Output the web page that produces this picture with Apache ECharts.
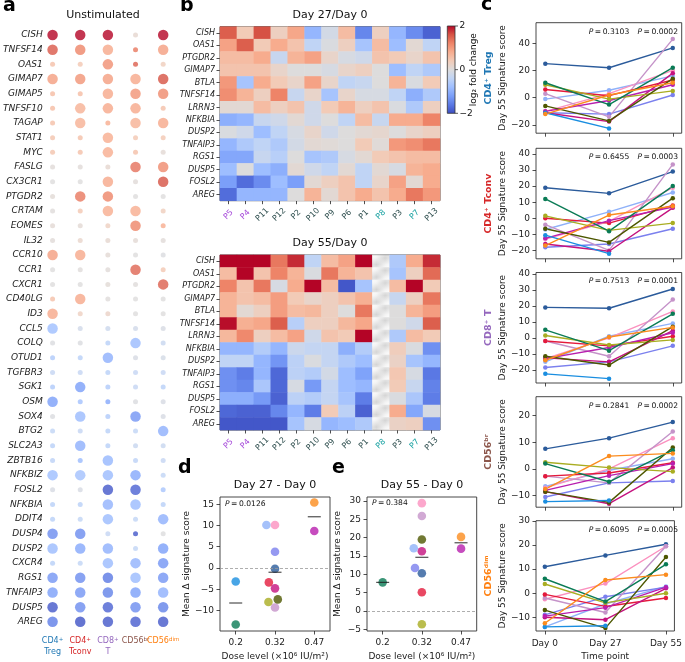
<!DOCTYPE html>
<html><head><meta charset="utf-8">
<script src="https://cdn.jsdelivr.net/npm/echarts@6/dist/echarts.min.js"></script>
<style>html,body{margin:0;padding:0;background:#fff}#c{width:685px;height:662px}</style>
</head><body><div id="c"></div>
<script>
const FONT = 'DejaVu Sans';
// ---------------- DATA ----------------
// panel a
const dotGenes = ['CISH','TNFSF14','OAS1','GIMAP7','GIMAP5','TNFSF10','TAGAP','STAT1','MYC','FASLG','CX3CR1','PTGDR2','CRTAM','EOMES','IL32','CCR10','CCR1','CXCR1','CD40LG','ID3','CCL5','COLQ','OTUD1','TGFBR3','SGK1','OSM','SOX4','BTG2','SLC2A3','ZBTB16','NFKBIZ','FOSL2','NFKBIA','DDIT4','DUSP4','DUSP2','CXCR4','RGS1','TNFAIP3','DUSP5','AREG'];
const cellTypes = ['CD4+|Treg','CD4+|Tconv','CD8+|T','CD56^br','CD56^dim'];
const cellTypeShort = ['CD4\u207A Treg','CD4\u207A Tconv','CD8\u207A T','CD56\u1D47\u02B3','CD56\u1D48\u2071\u1D50'];
const cellTypeColors = ['#1f77b4','#d62728','#9467bd','#8c564b','#ff7f0e'];
const dotLFC = [
 [2.0,2.0,2.0,0.15,2.0],[1.55,1.2,0.85,1.3,0.95],[0.55,0.45,1.1,1.5,0.35],[0.95,1.05,0.95,0.85,1.6],
 [0.6,0.6,0.85,1.05,1.15],[0.6,0.75,0.85,0.85,0.55],[0.55,0.75,0.8,0.75,0.85],[0.5,0.55,0.8,0.45,0.45],
 [0.5,0.55,0.8,0.55,0.1],[0.05,0.05,0.15,1.35,1.15],[0.0,0.0,0.85,0.05,1.6],[0.08,1.3,1.2,0.0,0.0],
 [0.03,0.45,0.8,0.8,0.35],[0.1,0.1,0.3,1.2,0.8],[0.05,0.2,0.15,0.1,0.05],[0.95,0.85,0.1,0.0,-0.05],
 [0.0,0.02,0.05,1.45,0.45],[0.0,0.0,0.08,0.02,1.5],[0.55,0.85,0.02,0.0,0.0],[0.85,0.3,0.25,0.0,0.0],
 [-0.8,-0.2,-0.25,-0.2,-0.1],[-0.05,-0.05,-0.5,-0.85,-0.3],[-0.6,-0.5,-1.0,-0.1,-0.15],[-0.35,-0.35,-0.5,-0.35,-0.35],
 [-0.6,-1.2,-0.6,-0.35,-0.5],[-1.2,-0.75,-1.1,-0.05,-0.1],[-0.05,-0.85,-0.6,-1.3,-0.1],[-0.4,-0.35,-0.5,-0.4,-1.0],
 [-0.5,-1.0,-0.5,-0.3,-0.3],[-0.45,-0.85,-0.9,-0.45,-0.35],[-0.8,-0.75,-0.85,-1.1,-0.4],[-0.1,-0.1,-1.9,-1.8,-0.7],
 [-0.5,-0.5,-0.95,-0.85,-0.5],[-0.5,-0.4,-0.85,-0.4,-1.0],[-1.4,-1.4,-0.35,-1.9,-0.02],[-0.85,-1.1,-1.0,-0.4,-1.2],
 [-0.5,-0.4,-0.85,-0.95,-1.3],[-1.3,-1.4,-1.6,-0.85,-1.3],[-1.2,-1.3,-1.5,-1.2,-1.0],[-1.9,-1.4,-1.8,-1.4,-1.5],
 [-1.55,-1.95,-1.9,-1.85,-1.9]];
// 1 = significant (large dot), 0 = not significant (small dot)
const dotSig = [
 [1,1,1,0,1],[1,1,1,0,1],[0,0,1,0,0],[1,1,1,1,1],[0,0,1,1,1],[0,1,1,1,0],[0,1,0,1,1],[0,0,1,0,0],[0,0,1,0,0],
 [0,0,0,1,1],[0,0,1,0,1],[0,1,1,0,0],[0,0,1,1,0],[0,0,0,1,0],[0,0,0,0,0],[1,1,0,0,0],[0,0,0,1,0],[0,0,0,0,1],
 [0,1,0,0,0],[1,0,0,0,0],[1,0,0,0,0],[0,0,0,1,0],[0,0,1,0,0],[0,0,0,0,0],[0,1,0,0,0],[1,0,0,0,0],[0,1,0,1,0],
 [0,0,0,0,1],[0,1,0,0,0],[0,0,1,0,0],[1,1,1,1,0],[0,0,1,1,0],[0,0,1,1,0],[0,0,1,0,1],[1,1,0,0,0],[1,1,1,0,1],
 [0,0,1,1,1],[1,1,1,1,1],[1,1,1,1,1],[1,1,1,1,1],[1,1,1,1,1]];

// panel b
const hmGenes = ['CISH','OAS1','PTGDR2','GIMAP7','BTLA','TNFSF14','LRRN3','NFKBIA','DUSP2','TNFAIP3','RGS1','DUSP5','FOSL2','AREG'];
const hmPatients = ['P5','P4','P11','P12','P2','P10','P9','P6','P1','P8','P3','P7','P13'];
const hmPatientGroup = [2,2,1,1,1,1,1,1,1,0,1,0,1];
const groupColors = ['#1aa2a2','#2f4f4f','#a84ddb'];
const lfcDay27 = [
 [1.5,0.4,1.6,0.3,0.85,-0.9,-0.15,0.6,-1.45,0.3,-0.9,-1.4,-1.8],
 [0.9,1.5,0.4,0.8,0.5,-0.4,-0.05,0.3,-0.7,0.6,-0.8,0.1,-0.4],
 [0.6,0.6,0.8,-0.3,0.7,0.9,0.2,-0.1,-0.2,0.5,0.4,0.2,0.5],
 [0.5,0.5,0.5,0.2,0.0,0.0,-0.1,0.2,0.3,0.0,-0.8,-0.4,-0.6],
 [1.0,-0.7,0.8,0.4,0.2,0.9,0.2,-0.4,-0.3,0.0,0.7,-0.05,0.4],
 [1.1,0.7,0.3,1.2,-0.3,0.2,-0.7,0.2,-0.1,-0.1,-0.4,-1.0,-0.6],
 [0.1,0.1,0.6,0.3,0.5,-0.2,0.4,0.7,0.3,0.5,-0.05,-0.6,0.3],
 [-1.0,-0.9,-0.3,-0.2,0.1,-0.2,0.0,-0.4,0.6,-0.3,0.8,0.8,1.2],
 [-0.05,-0.2,-0.8,-0.4,-0.1,0.2,-0.2,0.0,0.1,0.15,0.0,0.2,0.3],
 [-0.9,-0.6,-0.4,-0.6,-0.15,0.1,0.05,0.0,0.4,0.05,1.0,1.1,1.3],
 [-1.1,-1.1,-0.3,-0.5,0.0,-0.7,-0.6,-0.1,0.1,0.4,0.5,0.6,0.6],
 [-0.8,0.0,-0.8,-1.0,0.1,-0.2,-0.4,0.1,-0.4,0.1,-0.1,0.7,0.8],
 [-1.2,-1.7,-1.4,-0.8,-1.2,0.1,0.3,0.5,-0.4,0.2,0.9,0.1,0.8],
 [-1.7,-0.9,-0.9,-0.9,0.0,0.7,0.1,0.5,0.8,0.5,0.8,1.3,1.0]];
const lfcDay55 = [
 [2,2,2,1.3,1.8,-0.4,0.6,0.9,2,null,-0.6,0.8,1.8],
 [0.6,2,0.5,1.2,0.7,-0.05,1.3,0.7,0.5,null,-0.7,0.3,1.4],
 [1.2,0.5,1.3,-0.1,0.8,2,0.6,-1.9,-0.7,null,0.6,2,0.4],
 [0.7,0.5,0.6,0.95,0.4,0.2,0.3,0.5,0.75,null,-0.3,0.3,1.3],
 [0.7,0.1,0.3,0.95,0.6,0.65,0.3,0.0,1.3,null,0.0,0.7,0.95],
 [1.95,0.75,0.85,1.5,-0.5,0.3,0.3,0.65,0.85,null,0.0,-0.2,1.5],
 [0.65,1.15,0.3,0.6,0.9,-0.2,0.5,0.4,2,null,-0.6,0.6,0.4],
 [-0.9,-0.9,-0.55,-0.9,-0.25,-0.35,-0.35,-1.0,-0.55,null,0.35,-0.05,-1.35],
 [-0.4,-0.4,-0.9,-1.3,-0.45,-0.05,-0.35,-0.6,-0.8,null,0.25,-0.7,-0.9],
 [-1.35,-1.55,-0.9,-1.75,-0.45,-0.55,-0.15,-0.8,-1.15,null,0.45,-0.1,-1.6],
 [-1.35,-1.45,-0.65,-1.75,-0.1,-1.25,-0.35,-0.8,-0.9,null,0.4,-0.3,-1.5],
 [-1.0,-1.0,-1.25,-1.8,-0.45,-0.55,-0.35,-0.7,-1.55,null,-0.05,-0.65,-1.55],
 [-1.75,-1.8,-1.8,-1.45,-0.9,-1.55,0.4,-0.45,-1.8,null,0.8,-1.1,-0.1],
 [-1.9,-1.9,-1.9,-1.9,-0.7,-0.1,-0.9,-0.8,-0.6,null,0.25,0.3,-1.35]];
const colorbarTicks = [2, 0, -2];

// panel c  (patients: navy, light blue, periwinkle, pink, mauve, red, deep magenta, magenta, olive, dark olive, green, blue, orange)
const patientColors = ['#2b5b9b','#8fb1f9','#7b80ee','#fb91bf','#c593c9','#e41a3c','#c4127e','#b81fae','#a9ad22','#4d5700','#0a7b55','#1a8ee0','#fb8c1e'];
const timepoints = ['Day 0','Day 27','Day 55'];
const scoreTreg = [[25,22,36.5],[-1,5.5,16],[-11,-12,2],[-10,3,20],[3,-14,43],[6,1.5,13],[-11,-17.5,18],[-10,-2,9.5],[9.5,-1,5],[-6,-17,14],[11,-5,22],[-11,-22.5,null],[-12,2,11]];
const scoreTconv = [[19,15.5,29],[-7,4,16],[-18,-16,-6.5],[-13,-2,19],[-4,-20,33.5],[0,-3,8],[-16,-20.5,6.5],[-12.5,-1.5,7],[1.5,-7.5,-3],[-6.5,-15,12.5],[12,-8,20],[-10.5,-22,null],[-17,2,7.5]];
const scoreCD8 = [[19,18.5,30.5],[-15,1,9],[-18.5,-15,-5],[-13,0,16.5],[-2,-11.5,24],[-2,-5,1],[-12.5,-15,4.5],[-13,-6,3.2],[1.5,-4.5,-1.3],[-11.5,-17,7],[5,-8,15],[-22.5,-25.5,null],[-14,0.5,6.5]];
const scoreCD56br = [[7.5,11.5,17.5],[-6.5,-0.5,3.8],[-10.5,-5.2,-4.5],[-7,0,11.5],[-2.7,-5.2,14],[-2.7,-1.5,2.3],[-8.5,-13,0.5],[-8,-2.5,2],[2.5,0.5,-1],[-8.5,-12.5,8],[2,-4.8,7],[-12.2,-11.8,null],[-7.5,4.8,5.8]];
const scoreCD56dim = [[11,15.7,20.3],[-14,-4.5,2.8],[-9,-1.5,2.5],[-2.5,4,19.5],[-2,-8,19.5],[-0.5,-5.5,-2],[-10,-11,2],[-9.5,-6,2.5],[3.8,-4,0],[-7,-14.5,15],[6,-3.5,12],[-14,-13.5,null],[-12.5,5.5,7.7]];
const pDay27 = ['0.3103','0.6455','0.7513','0.2841','0.6095'];
const pDay55 = ['0.0002','0.0003','0.0001','0.0002','0.0005'];
const cTicks = [[-20,0,20,40],[-20,-10,0,10,20,30,40],[-20,-10,0,10,20,30,40],[-10,0,10,20],[-10,0,10,20,30]];

// panels d, e
const doseLevels = ['0.2','0.32','0.47'];
const patientDose = [1,1,1,1,1,1,1,2,1,1,0,0,2];
const delta27 = [-0.2,10.1,3.8,10.1,-9.3,-3.4,-4.8,8.7,-8.0,-7.4,-13.3,-3.2,15.4];
const delta55 = [10.3,17.1,11.7,29.4,25.9,5.1,16.3,17.0,-3.6,19.5,7.8,null,20.2];
const pD = '0.0126', pE = '0.384';
const dTicks = [-10,-5,0,5,10,15], eTicks = [-5,0,5,10,15,20,25,30];

// ---------------- LAYOUT ----------------
const coolwarm = ['#3b4cc0','#5a78e4','#7b9ff9','#9ebeff','#c0d4f5','#dddcdc','#f2cbb7','#f7ac8e','#ee8468','#d65244','#b40426'];
const GA = {left:28, top:27.67, width:149, height:601.5};
const GH1 = {left:220, top:26.7, width:220, height:174};
const GH2 = {left:220, top:255, width:220, height:175};
const C_TOPS = [22.7,148.3,272.5,396.7,520.7];
const GC = {left:536, width:145.7, height:110.5};
const C_RANGES = [[-26,55],[-25.2,43.5],[-28.2,40.8],[-14.3,27],[-15.7,30.1]];
const GD = {left:220, top:497, width:110, height:135}, D_RANGE = [-14.84,16.7];
const GE = {left:367, top:497, width:109.7, height:135}, E_RANGE = [-5.46,31.08];
const XR = [-0.4, 2.4];
const AX = '#222';
const tk = {fontSize:9, color:AX, fontFamily:FONT};
const minus = v => String(v).replace('-', '\u2212');
const noLine = {show:false, onZero:false};

const grids = [GA, GH1, GH2];
C_TOPS.forEach(t => grids.push({left:GC.left, top:t, width:GC.width, height:GC.height}));
grids.push(GD, GE);
const gridOpt = grids.map((g,i) => Object.assign({}, g, {show: i>0, borderColor:'#333', borderWidth:0.9, backgroundColor:'transparent', containLabel:false}));

const xAxes = [], yAxes = [];
// a
const richA = {n:{fontSize:8, lineHeight:10.5, fontFamily:FONT}, s:{fontSize:5.5, lineHeight:10.5, verticalAlign:'top', fontFamily:FONT}};
xAxes.push({gridIndex:0, type:'category', data:cellTypes, axisLine:noLine, axisTick:{show:false},
  axisLabel:{interval:0, fontSize:8, lineHeight:10.5, margin:7, fontFamily:FONT, color:(v,i)=>cellTypeColors[i], rich:richA,
    formatter:v=>{
      const lines = v.split('|').map(s=>{ const m = s.match(/^([^+^]*)(\+|\^(.*))?$/); return '{n|'+m[1]+'}' + (m[2] ? '{s|'+(m[2]==='+'?'+':m[3])+'}' : ''); });
      return lines.join('\n');
    }}});
yAxes.push({gridIndex:0, type:'category', data:dotGenes, inverse:true, offset:-6, axisLine:noLine, axisTick:{show:false},
  axisLabel:{interval:0, fontSize:9, fontStyle:'italic', margin:2, color:AX, fontFamily:FONT}});
// b
[1,2].forEach(gi => {
  xAxes.push({gridIndex:gi, type:'category', data:hmPatients, axisLine:noLine,
    axisTick:{show:true, alignWithLabel:true, length:3.5, lineStyle:{color:AX, width:0.8}},
    axisLabel:{interval:0, rotate:45, align:'center', verticalAlign:'middle', margin:14, fontSize:8, fontFamily:FONT,
      color:(v,i)=>groupColors[hmPatientGroup[i]]}});
  yAxes.push({gridIndex:gi, type:'category', data:hmGenes, inverse:true, axisLine:noLine,
    axisTick:{show:true, alignWithLabel:true, length:3.5, lineStyle:{color:AX, width:0.8}},
    axisLabel:{interval:0, fontSize:8, fontStyle:'italic', margin:5, color:AX, fontFamily:FONT}});
});
// c
C_TOPS.forEach((t, i) => {
  const last = i === 4;
  xAxes.push({gridIndex:3+i, type:'value', min:-0.146, max:2.14, splitLine:{show:false}, axisLine:noLine,
    axisTick:{show:true, customValues:[0,1,2], length:3.5, lineStyle:{color:AX, width:0.8}},
    axisLabel:{show:last, customValues:[0,1,2], margin:8, formatter:v=>timepoints[Math.round(v)], ...tk},
    name: last ? 'Time point' : '', nameLocation:'middle', nameGap:21, nameTextStyle:{...tk}});
  yAxes.push({gridIndex:3+i, type:'value', min:C_RANGES[i][0], max:C_RANGES[i][1], splitLine:{show:false}, axisLine:noLine,
    axisTick:{show:true, customValues:cTicks[i], length:3.5, lineStyle:{color:AX, width:0.8}},
    axisLabel:{customValues:cTicks[i], margin:6, formatter:minus, ...tk},
    name:'Day 55 Signature score', nameLocation:'middle', nameGap:29, nameTextStyle:{...tk}});
});
// d, e
[[8, D_RANGE, dTicks, 27],[9, E_RANGE, eTicks, 25]].forEach(([gi, r, ticks, gap]) => {
  xAxes.push({gridIndex:gi, type:'value', min:XR[0], max:XR[1], splitLine:{show:false}, axisLine:noLine,
    axisTick:{show:true, customValues:[0,1,2], length:3.5, lineStyle:{color:AX, width:0.8}},
    axisLabel:{customValues:[0,1,2], margin:7, formatter:v=>doseLevels[Math.round(v)], ...tk},
    name:'Dose level (\u00D710\u2076 IU/m\u00B2)', nameLocation:'middle', nameGap:21, nameTextStyle:{...tk}});
  yAxes.push({gridIndex:gi, type:'value', min:r[0], max:r[1], splitLine:{show:false}, axisLine:noLine,
    axisTick:{show:true, customValues:ticks, length:3.5, lineStyle:{color:AX, width:0.8}},
    axisLabel:{customValues:ticks, margin:6, formatter:minus, ...tk},
    name:'Mean \u0394 signature score', nameLocation:'middle', nameGap:gap, nameTextStyle:{...tk}});
});

// ---------------- SERIES ----------------
const series = [];
// a: dot plot
const dotData = [];
dotGenes.forEach((g, r) => cellTypes.forEach((c, k) => dotData.push([k, r, dotLFC[r][k], dotSig[r][k]])));
series.push({type:'scatter', xAxisIndex:0, yAxisIndex:0, data:dotData, silent:true,
  symbolSize: v => v[3] ? 10.5 : 5});
// b: heatmaps
function hmData(m){ const out=[]; m.forEach((row,r)=>row.forEach((v,c)=>{ if(v!==null) out.push([c,r,v]); })); return out; }
series.push({type:'heatmap', xAxisIndex:1, yAxisIndex:1, data:hmData(lfcDay27), silent:true});
series.push({type:'heatmap', xAxisIndex:2, yAxisIndex:2, data:hmData(lfcDay55), silent:true});
const pc = document.createElement('canvas'); pc.width = 7; pc.height = 7;
const pctx = pc.getContext('2d'); pctx.fillStyle='#fff'; pctx.fillRect(0,0,7,7);
pctx.strokeStyle='#c8c8c8'; pctx.lineWidth=1.1; pctx.beginPath();
pctx.moveTo(0,7); pctx.lineTo(7,0); pctx.moveTo(-1,1); pctx.lineTo(1,-1); pctx.moveTo(6,8); pctx.lineTo(8,6); pctx.stroke();
const missing = []; lfcDay55.forEach((row,r)=>row.forEach((v,c)=>{ if(v===null) missing.push([c,r]); }));
series.push({type:'scatter', xAxisIndex:2, yAxisIndex:2, data:missing, silent:true, symbol:'rect',
  symbolSize:[GH2.width/hmPatients.length+0.6, GH2.height/hmGenes.length+0.6],
  itemStyle:{color:{image:pc, repeat:'repeat'}}});
// c: lines
[scoreTreg, scoreTconv, scoreCD8, scoreCD56br, scoreCD56dim].forEach((panel, pi) => panel.forEach((row, k) => {
  series.push({type:'line', xAxisIndex:3+pi, yAxisIndex:3+pi, data:row.map((v,t)=>[t,v]), silent:true,
    symbol:'circle', symbolSize:4.5, showSymbol:true, connectNulls:false,
    lineStyle:{width:1.4, color:patientColors[k]}, itemStyle:{color:patientColors[k]}});
}));
// d, e: swarm
function swarm(values, range, grid, D){
  const pxY = grid.height/(range[1]-range[0]), pxX = grid.width/(XR[1]-XR[0]);
  const xs = values.map(()=>null);
  doseLevels.forEach((d, g) => {
    const idx = values.map((v,i)=>i).filter(i=>patientDose[i]===g && values[i]!==null);
    idx.sort((a,b)=> (values[a]-values[b]) || (b-a));
    const placed = [];
    idx.forEach(i => {
      const y = values[i]*pxY; const cands=[0];
      placed.forEach(p=>{ const dy=Math.abs(p.y-y); if(dy<D){ const dx=Math.sqrt(D*D-dy*dy); cands.push(p.x-dx, p.x+dx);} });
      const ok = cands.filter(cx => placed.every(p => (p.x-cx)*(p.x-cx)+(p.y-y)*(p.y-y) >= D*D-1e-6));
      ok.sort((a,b)=> (Math.abs(a)-Math.abs(b)) || (a-b));
      placed.push({x:ok[0], y}); xs[i] = g + ok[0]/pxX;
    });
  });
  return xs;
}
function groupMeans(values){
  return doseLevels.map((d,g)=>{ const v = values.filter((x,i)=>patientDose[i]===g && x!==null); return [g, v.reduce((s,x)=>s+x,0)/v.length]; });
}
[[8, delta27, D_RANGE, GD],[9, delta55, E_RANGE, GE]].forEach(([ai, vals, r, g]) => {
  const xs = swarm(vals, r, g, 8.6);
  const pts = []; vals.forEach((v,i)=>{ if(v!==null) pts.push({value:[xs[i], v], itemStyle:{color:patientColors[i]}}); });
  series.push({type:'scatter', xAxisIndex:ai, yAxisIndex:ai, data:pts, symbolSize:8.6, silent:true, z:3,
    markLine:{silent:true, symbol:['none','none'], label:{show:false}, lineStyle:{type:[3,2], color:'#999', width:0.8}, data:[{yAxis:0}]}});
  series.push({type:'scatter', xAxisIndex:ai, yAxisIndex:ai, data:groupMeans(vals), symbol:'rect', symbolSize:[13,1.2], silent:true, z:4,
    itemStyle:{color:'#222'}});
});

// ---------------- GRAPHIC ----------------
function txt(x, y, text, o){
  o = o || {};
  const st = {text, fill:o.fill||'#111', fontSize:o.size||9, fontFamily:FONT, fontWeight:o.weight||'normal', fontStyle:o.style||'normal',
    align:o.align||'center', verticalAlign:o.va||'middle', textAlign:o.align||'center', textVerticalAlign:o.va||'middle'};
  if (o.rich) st.rich = o.rich;
  return {type:'text', x, y, rotation:o.rot||0, silent:true, style:st};
}
const richP = {i:{fontStyle:'italic', fontSize:7.6, fontFamily:FONT, fill:'#111'}, n:{fontSize:7.6, fontFamily:FONT, fill:'#111'}};
const pText = p => '{i|P}{n|\u2009=\u2009' + p + '}';
const graphic = [];
[['a',3,16],['b',180,16],['c',481,15],['d',178,478],['e',332,478]].forEach(([l,x,y])=>graphic.push(txt(x,y,l,{size:19, weight:'bold', align:'left', va:'bottom', fill:'#000'})));
graphic.push(txt(103,15,'Unstimulated',{size:11}));
graphic.push(txt(330,15,'Day 27/Day 0',{size:11}));
graphic.push(txt(330,243.3,'Day 55/Day 0',{size:11}));
graphic.push(txt(275,485,'Day 27 - Day 0',{size:11}));
graphic.push(txt(422,485,'Day 55 - Day 0',{size:11}));
// colorbar
const cb = {x:447.3, y:26, w:7.7, h:87.3};
graphic.push({type:'rect', silent:true, shape:{x:cb.x, y:cb.y, width:cb.w, height:cb.h},
  style:{fill:new echarts.graphic.LinearGradient(0,0,0,1, coolwarm.slice().reverse().map((c,i)=>({offset:i/(coolwarm.length-1), color:c}))), stroke:'#333', lineWidth:0.8}});
colorbarTicks.forEach(t => {
  const y = cb.y + (2 - t)/4*cb.h;
  graphic.push({type:'line', silent:true, shape:{x1:cb.x+cb.w, y1:y, x2:cb.x+cb.w+3, y2:y}, style:{stroke:'#333', lineWidth:0.8}});
  graphic.push(txt(cb.x+cb.w+4.5, y, minus(t), {size:9, align:'left'}));
});
graphic.push(txt(473.5, cb.y+cb.h/2, 'log\u2082 fold change', {size:9, rot:Math.PI/2}));
// panel c texts
C_TOPS.forEach((t,i)=>{
  graphic.push(txt(609, t+9, pText(pDay27[i]), {rich:richP}));
  graphic.push(txt(678, t+9, pText(pDay55[i]), {rich:richP, align:'right'}));
  graphic.push(txt(489, t+GC.height/2, cellTypeShort[i], {size:9.5, weight:'bold', fill:cellTypeColors[i], rot:Math.PI/2}));
});
graphic.push(txt(225, 504.5, pText(pD), {rich:richP, align:'left'}));
graphic.push(txt(372, 503, pText(pE), {rich:richP, align:'left'}));

const chart = echarts.init(document.getElementById('c'), null, {renderer:'canvas'});
chart.setOption({
  animation:false,
  backgroundColor:'#fff',
  textStyle:{fontFamily:FONT},
  grid:gridOpt, xAxis:xAxes, yAxis:yAxes,
  visualMap:[
    {type:'continuous', show:false, min:-2, max:2, seriesIndex:[1,2], inRange:{color:coolwarm}},
    {type:'continuous', show:false, min:-2, max:2, dimension:2, seriesIndex:[0], inRange:{color:coolwarm}}
  ],
  series, graphic
});
</script></body></html>
